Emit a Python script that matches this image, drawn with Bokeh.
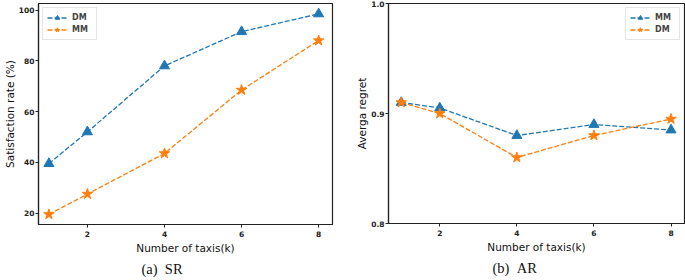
from bokeh.plotting import figure
from bokeh.layouts import row
from bokeh.models import Range1d, FixedTicker, Title
from bokeh.embed import file_html
from bokeh.resources import INLINE

taxis = [1, 2, 4, 6, 8]
sr_dm = [39.5, 52.0, 78.0, 91.5, 98.5]
sr_mm = [19.5, 27.5, 43.5, 68.5, 88.0]
ar_mm = [0.910, 0.905, 0.880, 0.890, 0.885]
ar_dm = [0.910, 0.900, 0.860, 0.880, 0.895]

x_ticks = [2, 4, 6, 8]
sr_ticks = [20, 40, 60, 80, 100]
ar_ticks = [0.8, 0.9, 1.0]

BLUE = "#1f77b4"
ORANGE = "#ff7f0e"
FONT = "DejaVu Sans"


def style(p, xlabel, ylabel):
    p.outline_line_color = "#222222"
    p.outline_line_width = 1.2
    p.xgrid.visible = False
    p.ygrid.visible = False
    for ax in (p.xaxis[0], p.yaxis[0]):
        ax.axis_line_color = "#222222"
        ax.axis_line_width = 1.2
        ax.major_tick_line_color = "#222222"
        ax.major_tick_out = 3
        ax.major_tick_in = 0
        ax.minor_tick_line_color = None
        ax.major_label_text_font = FONT
        ax.major_label_text_font_size = "7.5px"
        ax.major_label_text_font_style = "bold"
        ax.major_label_text_color = "#222222"
        ax.axis_label_text_font = FONT
        ax.axis_label_text_font_size = "10.5px"
        ax.axis_label_text_font_style = "normal"
        ax.axis_label_text_color = "#111111"
    p.xaxis.axis_label = xlabel
    p.yaxis.axis_label = ylabel
    p.xaxis.major_label_standoff = 3
    p.yaxis.major_label_standoff = 1
    p.xaxis.axis_label_standoff = 2
    p.yaxis.axis_label_standoff = 0
    p.yaxis.axis_label_text_line_height = 1.0
    p.xaxis.ticker = FixedTicker(ticks=x_ticks)


def series(p, y, color, marker, label):
    p.line(taxis, y, line_color=color, line_width=1.3, line_dash="5 2",
           legend_label=label)
    p.scatter(taxis, y, marker=marker, size=10 if marker == "triangle" else 11,
              fill_color=color, line_color=color, legend_label=label)


def caption(p, text, offset):
    t = Title(text=text, align="left", text_font="Liberation Serif",
              text_font_size="14.5px", text_font_style="normal",
              text_color="#111111", standoff=4, offset=offset)
    p.add_layout(t, "below")


# Panel (a)
p1 = figure(width=340, height=280, output_backend="svg", toolbar_location=None,
            x_range=Range1d(0.73, 8.36), y_range=Range1d(15.5, 102.6),
            min_border_left=35, min_border_right=8, min_border_top=3,
            min_border_bottom=0, frame_width=294, frame_height=221)
style(p1, "Number of taxis(k)", "Satisfaction rate (%)")
p1.yaxis.ticker = FixedTicker(ticks=sr_ticks)
series(p1, sr_dm, BLUE, "triangle", "DM")
series(p1, sr_mm, ORANGE, "star", "MM")
caption(p1, "(a)\u00a0\u00a0SR", 103)

# Panel (b)
p2 = figure(width=345, height=280, output_backend="svg", toolbar_location=None,
            x_range=Range1d(0.67, 8.35), y_range=Range1d(0.8, 1.0),
            min_border_left=48, min_border_right=1, min_border_top=3,
            min_border_bottom=0, frame_width=296, frame_height=220)
style(p2, "Number of taxis(k)", "Averga regret")
p2.yaxis.ticker = FixedTicker(ticks=ar_ticks)
p2.yaxis.major_label_overrides = {0.8: "0.8", 0.9: "0.9", 1.0: "1.0", 1: "1.0"}
series(p2, ar_mm, BLUE, "triangle", "MM")
series(p2, ar_dm, ORANGE, "star", "DM")
caption(p2, "(b)\u00a0\u00a0AR", 104)

for p, loc in ((p1, "top_left"), (p2, "top_right")):
    lg = p.legend[0]
    lg.location = loc
    lg.label_text_font = FONT
    lg.label_text_font_size = "8px"
    lg.label_text_font_style = "bold"
    lg.label_height = 11
    lg.glyph_height = 11
    lg.glyph_width = 20
    lg.spacing = 1
    lg.padding = 4
    lg.margin = 4
    lg.border_line_color = "#cccccc"
    lg.border_line_width = 1
    lg.background_fill_alpha = 0.8

layout = row(p1, p2)
open("out.html", "w").write(file_html(layout, INLINE))
